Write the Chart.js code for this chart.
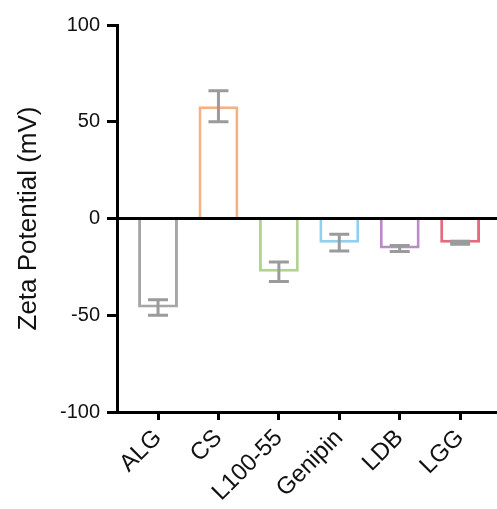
<!DOCTYPE html>
<html>
<head>
<meta charset="utf-8">
<script src="https://cdn.jsdelivr.net/npm/chart.js@4"></script>
<style>
  html, body { margin: 0; padding: 0; background: #fff; }
  #wrap { width: 497px; height: 509px; }
</style>
</head>
<body>
<div id="wrap"><canvas id="zeta"></canvas></div>
<script>
// data
const categories = ['ALG', 'CS', 'L100-55', 'Genipin', 'LDB', 'LGG'];
const zetaMean = [-46, 58, -27.5, -12.5, -15.5, -12.5];
const zetaErr = [4, 8, 5, 4.3, 1.5, 0.8];
const barColors = ['#a6a6a6', '#f4b183', '#b4d38f', '#8ed0ef', '#b98bc7', '#e8687e'];
const yTicks = [-100, -50, 0, 50, 100];

const FONT = "Arial, 'Liberation Sans', Helvetica, sans-serif";

// error bars on top of the bars
const errorBars = {
  id: 'errorBars',
  afterDatasetsDraw(chart) {
    const ctx = chart.ctx;
    const yScale = chart.scales.y;
    const meta = chart.getDatasetMeta(0);
    ctx.save();
    ctx.strokeStyle = '#9b9b9b';
    ctx.lineWidth = 3;
    meta.data.forEach((bar, i) => {
      const hi = yScale.getPixelForValue(zetaMean[i] + zetaErr[i]);
      const lo = yScale.getPixelForValue(zetaMean[i] - zetaErr[i]);
      ctx.beginPath();
      ctx.moveTo(bar.x, hi); ctx.lineTo(bar.x, lo);
      ctx.moveTo(bar.x - 10, hi); ctx.lineTo(bar.x + 10, hi);
      ctx.moveTo(bar.x - 10, lo); ctx.lineTo(bar.x + 10, lo);
      ctx.stroke();
    });
    ctx.restore();
  }
};

new Chart(document.getElementById('zeta'), {
  type: 'bar',
  data: {
    datasets: [{
      data: zetaMean.map((v, i) => ({ x: i, y: v })),
      backgroundColor: '#ffffff',
      borderColor: barColors,
      borderWidth: 3,
      borderSkipped: 'start',
      barPercentage: 0.66,
      categoryPercentage: 1
    }]
  },
  options: {
    responsive: true,
    maintainAspectRatio: false,
    animation: false,
    layout: { padding: { top: 25, right: 0, left: 0, bottom: 0 } },
    plugins: { legend: { display: false }, tooltip: { enabled: false } },
    scales: {
      x: {
        type: 'linear',
        offset: false,
        min: -0.679,
        max: 5.61,
        afterBuildTicks(scale) {
          scale.ticks = categories.map((_, i) => ({ value: i }));
        },
        afterFit(scale) { scale.height = 97; },
        border: { color: '#000', width: 3 },
        grid: { offset: false, drawOnChartArea: false, tickLength: 8, tickWidth: 3, tickColor: '#000' },
        ticks: {
          minRotation: 45,
          maxRotation: 45,
          autoSkip: false,
          padding: 4,
          color: '#111',
          font: { family: FONT, size: 24 },
          callback: v => categories[v]
        }
      },
      y: {
        min: -100,
        max: 100,
        afterBuildTicks(scale) {
          scale.ticks = yTicks.map(v => ({ value: v }));
        },
        afterFit(scale) { scale.width = 117; },
        border: { color: '#000', width: 3 },
        grid: {
          color: c => (c.tick && c.tick.value === 0 ? '#000' : 'rgba(0,0,0,0)'),
          lineWidth: 3,
          tickLength: 10,
          tickWidth: 3,
          tickColor: '#000'
        },
        ticks: {
          padding: 7,
          color: '#111',
          font: { family: FONT, size: 20 }
        },
        title: {
          display: true,
          text: 'Zeta Potential (mV)',
          color: '#111',
          font: { family: FONT, size: 26 },
          padding: { top: 13, bottom: 0 }
        }
      }
    }
  },
  plugins: [errorBars]
});
</script>
</body>
</html>
